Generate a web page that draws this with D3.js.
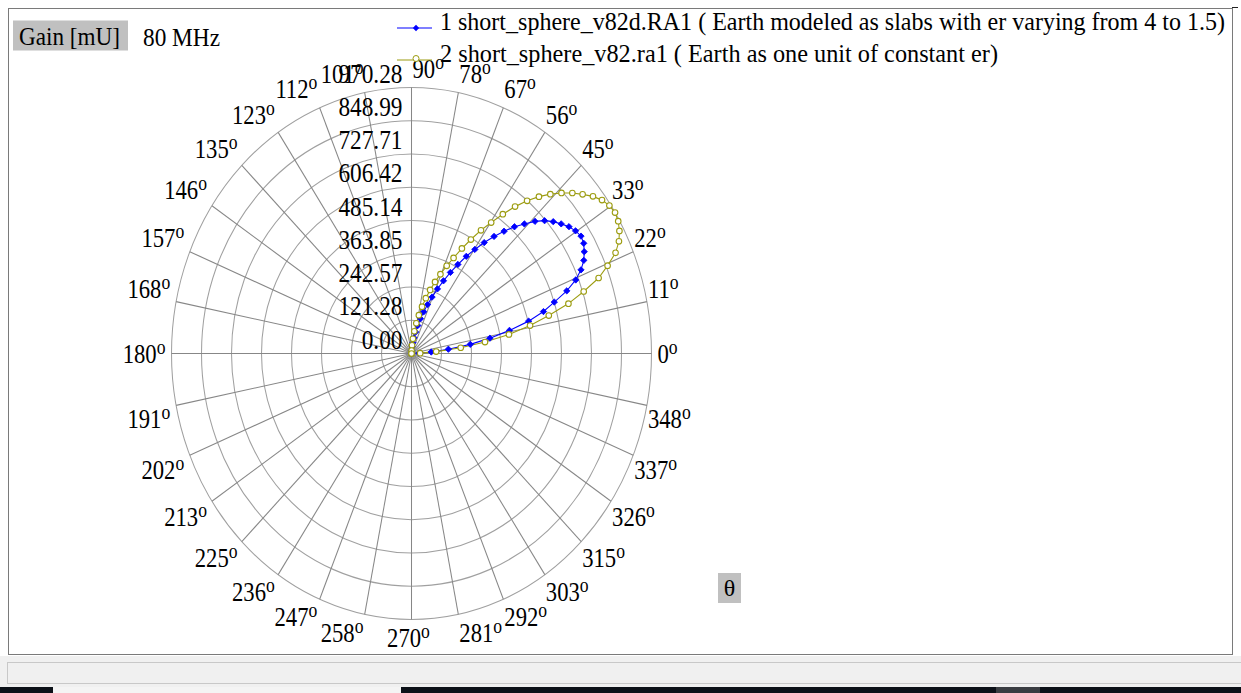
<!DOCTYPE html>
<html>
<head>
<meta charset="utf-8">
<script src="https://cdn.jsdelivr.net/npm/d3@7"></script>
<style>
  html, body { margin: 0; padding: 0; background: #ffffff; }
  svg { display: block; }
  text { font-family: "Liberation Serif", "Times New Roman", serif; fill: #000; }
</style>
</head>
<body>
<svg id="chart" width="1241" height="693"></svg>
<script>
// ---------------- data ----------------
const elevation = [0,2,4,6,8,10,12,14,16,18,20,22,24,26,28,30,32,34,36,38,40,42,44,46,48,50,52,54,56,58,60,62,64,66,68,70,72,74,76,78,80,82,84,86,88,90];
const gainSlabs = [0,30,80,150,240,322,405,488,555,607,668,716,750,775,791,804,808,800,787,768,748,724,694,657,622,582,542,500,458,418,375,335,295,258,222,190,160,132,105,80,58,40,24,12,4,0];
const gainConstant = [0,35,100,200,300,400,490,572,660,732,805,855,903,933,952,965,970.28,965,952,931,903,875,843,808,770,727,680,628,576,530,480,434,388,350,312,278,244,210,176,143,112,82,54,30,11,0];
const ringTicks = [0.00,121.28,242.57,363.85,485.14,606.42,727.71,848.99,970.28];
const ringLabels = ["0.00","121.28","242.57","363.85","485.14","606.42","727.71","848.99","970.28"];
const spokeAngles = [0,11.25,22.5,33.75,45,56.25,67.5,78.75,90,101.25,112.5,123.75,135,146.25,157.5,168.75,180,191.25,202.5,213.75,225,236.25,247.5,258.75,270,281.25,292.5,303.75,315,326.25,337.5,348.75];
const spokeLabels = ["0","11","22","33","45","56","67","78","90","101","112","123","135","146","157","168","180","191","202","213","225","236","247","258","270","281","292","303","315","326","337","348"];
const seriesNames = ["1 short_sphere_v82d.RA1 ( Earth modeled as slabs with er varying from 4 to 1.5)",
                     "2 short_sphere_v82.ra1 ( Earth as one unit of constant er)"];
const seriesColors = ["#0000ff", "#9c9c10"];

// ---------------- layout ----------------
const svg = d3.select("#chart");
const W = 1241, H = 693;
const cx = 411.5, cy = 353.5;
const RY = 266, RX = 240;
const sx = RX / RY;

// frame
svg.append("rect").attr("x", 8.5).attr("y", 8.5).attr("width", 1224).attr("height", 646)
  .attr("fill", "#fff").attr("stroke", "#7a7a7a").attr("stroke-width", 1);
svg.append("line").attr("x1", 1232).attr("x2", 1238).attr("y1", 7.5).attr("y2", 7.5).attr("stroke", "#222");
// status bar at bottom
svg.append("rect").attr("x", 0).attr("y", 656).attr("width", W).attr("height", 31).attr("fill", "#f0f0f0");
svg.append("rect").attr("x", 7.5).attr("y", 662.5).attr("width", 1240).attr("height", 21)
  .attr("fill", "#f0f0f0").attr("stroke", "#c8c8c8");
svg.append("rect").attr("x", 0).attr("y", 687).attr("width", W).attr("height", 6).attr("fill", "#0c1118");
svg.append("rect").attr("x", 53).attr("y", 687).attr("width", 348).attr("height", 6).attr("fill", "#f4f4f4");
svg.append("rect").attr("x", 996).attr("y", 687).attr("width", 44).attr("height", 6).attr("fill", "#3a3d42");

// polar group (elliptical, as in the picture)
const r = d3.scaleLinear().domain([0, 970.28]).range([0, RY]);
const g = svg.append("g").attr("transform", `translate(${cx},${cy}) scale(${sx},1)`);
const toRad = d => (90 - d) * Math.PI / 180; // d3 radial: clockwise from 12 o'clock

// rings
g.selectAll("circle.ring").data(ringTicks.slice(1)).join("circle")
  .attr("class", "ring").attr("r", d => r(d))
  .attr("fill", "none").attr("stroke", "#a0a0a0").attr("stroke-width", 1.15);
// spokes
g.selectAll("line.spoke").data(spokeAngles).join("line")
  .attr("class", "spoke")
  .attr("x1", 0).attr("y1", 0)
  .attr("x2", d => d3.pointRadial(toRad(d), r(970.28))[0])
  .attr("y2", d => d3.pointRadial(toRad(d), r(970.28))[1])
  .attr("stroke", "#878787").attr("stroke-width", 1.15);

// series
const series = [gainSlabs, gainConstant];
const radial = d3.lineRadial().angle((d, i) => toRad(elevation[i])).radius(d => r(d));
series.forEach((vals, k) => {
  g.append("path").attr("d", radial(vals)).attr("fill", "none")
    .attr("stroke", seriesColors[k]).attr("stroke-width", 1.15);
});

// markers (drawn unscaled so their shape is not squeezed)
const px = (v, a) => cx + sx * d3.pointRadial(toRad(a), r(v))[0];
const py = (v, a) => cy + d3.pointRadial(toRad(a), r(v))[1];
const diamond = d3.symbol(d3.symbolSquare, 20);
svg.selectAll("path.mk1").data(gainSlabs).join("path").attr("class", "mk1")
  .attr("transform", (d, i) => `translate(${px(d, elevation[i])},${py(d, elevation[i])}) rotate(45)`)
  .attr("d", diamond).attr("fill", seriesColors[0])
  .attr("stroke", seriesColors[0]).attr("stroke-width", 0.8);
svg.selectAll("circle.mk2").data(gainConstant).join("circle").attr("class", "mk2")
  .attr("cx", (d, i) => px(d, elevation[i]))
  .attr("cy", (d, i) => py(d, elevation[i]))
  .attr("r", 2.8).attr("fill", "#fff").attr("stroke", seriesColors[1]).attr("stroke-width", 1.1);

// ring labels
const ringG = svg.append("g");
ringTicks.forEach((v, i) => {
  const t = ringG.append("g").attr("transform", `translate(${cx - 9},${cy - r(v) - 5}) scale(0.88,1)`);
  t.append("text").attr("text-anchor", "end").attr("font-size", 26.5).text(ringLabels[i]);
});

// angle labels
const angG = svg.append("g");
spokeAngles.forEach((a, i) => {
  const rad = a * Math.PI / 180;
  const c = Math.cos(rad), s = Math.sin(rad);
  let x, y, anchor;
  if (Math.abs(c) < 1e-6) {
    if (s > 0) { x = cx + 1; anchor = "start"; } else { x = cx - 3; anchor = "middle"; }
  } else if (c > 0) { x = cx + RX * c + 1 + (Math.abs(s) < 1e-6 ? 5 : 0); anchor = "start"; }
  else { x = cx + 246 * c; anchor = "end"; }
  if (s > 1e-6) y = cy - 274 * s - 2;
  else if (s < -1e-6) y = cy + 272 * (-s) + 3 + 18.3;
  else y = cy + 9;
  const t = angG.append("g").attr("transform", `translate(${x},${y}) scale(0.84,1)`);
  const tx = t.append("text").attr("text-anchor", anchor).attr("font-size", 27);
  tx.append("tspan").text(spokeLabels[i]);
  tx.append("tspan").attr("font-size", 21).attr("dy", -9).text("o");
});

// title boxes
svg.append("rect").attr("x", 13).attr("y", 20.5).attr("width", 115).attr("height", 30).attr("fill", "#c0c0c0");
svg.append("text").attr("x", 19).attr("y", 45).attr("font-size", 25)
  .attr("textLength", 101).attr("lengthAdjust", "spacingAndGlyphs").text("Gain [mU]");
svg.append("text").attr("x", 143).attr("y", 46).attr("font-size", 25)
  .attr("textLength", 77).attr("lengthAdjust", "spacingAndGlyphs").text("80 MHz");

// legend
const legY = [28, 60], legBase = [30, 62], legLen = [785, 558];
seriesNames.forEach((name, k) => {
  svg.append("line").attr("x1", 397).attr("x2", 432).attr("y1", legY[k]).attr("y2", legY[k])
    .attr("stroke", seriesColors[k]).attr("stroke-width", 1.2);
  if (k === 0) {
    svg.append("path").attr("transform", `translate(416,${legY[k]}) rotate(45)`)
      .attr("d", diamond).attr("fill", seriesColors[k]);
  } else {
    svg.append("circle").attr("cx", 416).attr("cy", legY[k] - 1.5).attr("r", 3)
      .attr("fill", "#fff").attr("stroke", seriesColors[k]);
  }
  svg.append("text").attr("x", 440).attr("y", legBase[k]).attr("font-size", 25)
    .attr("textLength", legLen[k]).attr("lengthAdjust", "spacingAndGlyphs").text(name);
});

// theta box
svg.append("rect").attr("x", 718).attr("y", 573).attr("width", 23).attr("height", 30).attr("fill", "#c0c0c0");
svg.append("text").attr("x", 729.5).attr("y", 596).attr("text-anchor", "middle").attr("font-size", 24).text("θ");
</script>
</body>
</html>
